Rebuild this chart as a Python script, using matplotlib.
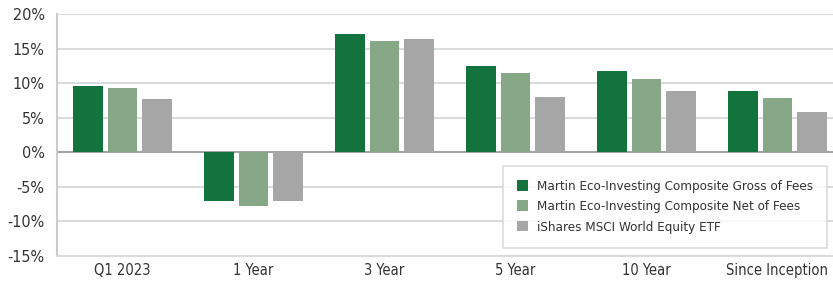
import numpy as np
import matplotlib.pyplot as plt
from matplotlib import font_manager

# Data
categories = ['Q1 2023', '1 Year', '3 Year', '5 Year', '10 Year', 'Since Inception']
gross = [9.6, -7.0, 17.1, 12.5, 11.8, 8.9]
net = [9.3, -7.8, 16.1, 11.4, 10.6, 7.9]
ishares = [7.7, -7.1, 16.4, 8.0, 8.9, 5.8]
series_labels = ['Martin Eco-Investing Composite Gross of Fees',
                 'Martin Eco-Investing Composite Net of Fees',
                 'iShares MSCI World Equity ETF']
colors = ['#13733C', '#86A886', '#A6A6A6']

# narrow face, closest thing to the condensed font of the original
files = sorted({f.fname for f in font_manager.fontManager.ttflist})
narrow = [f for f in files if ('Narrow' in f or 'Condensed' in f)
          and 'Bold' not in f and 'Italic' not in f and 'Oblique' not in f]
fp = font_manager.FontProperties(fname=narrow[0]) if narrow else font_manager.FontProperties(family='DejaVu Sans')

fig = plt.figure(figsize=(8.33, 2.81), dpi=100)
ax = fig.add_axes([57 / 833, 25 / 281, 786 / 833, 242 / 281])

x = np.arange(len(categories))
w = 0.229
step = 0.267
for i, (vals, lab) in enumerate(zip([gross, net, ishares], series_labels)):
    ax.bar(x + (i - 1) * step, vals, width=w, color=colors[i], label=lab, zorder=3)

ax.set_xlim(-0.5, len(categories) - 0.5)
ax.set_ylim(-15, 20)
ax.set_yticks(np.arange(-15, 21, 5))
ax.set_yticklabels([f'{v}%' for v in range(-15, 21, 5)])
ax.set_xticks(x)
ax.set_xticklabels(categories)
ax.tick_params(length=0, colors='#333333')
ax.tick_params(axis='y', pad=9)
ax.tick_params(axis='x', pad=5)
for t in ax.get_yticklabels():
    t.set_fontproperties(fp)
    t.set_fontsize(11.5)
for t in ax.get_xticklabels():
    t.set_fontproperties(fp)
    t.set_fontsize(10.5)

ax.grid(axis='y', color='#D9DCDC', linewidth=1.5, zorder=0)
ax.axhline(0, color='#A0A4A4', linewidth=1.5, zorder=2)
for s in ['top', 'right']:
    ax.spines[s].set_visible(False)
ax.spines['left'].set_color('#C8CCCC')
ax.spines['left'].set_linewidth(1.5)
ax.spines['bottom'].set_color('#D9DCDC')
ax.spines['bottom'].set_linewidth(1.5)

lp = fp.copy()
lp.set_size(9.6)
leg = ax.legend(loc='upper left', bbox_to_anchor=((503 - 57) / 786, (256 - 166) / 242),
                prop=lp, frameon=True, fancybox=False, edgecolor='#D0D4D4',
                handlelength=0.85, handleheight=0.85, handletextpad=0.65,
                labelspacing=0.55, borderpad=1.05, borderaxespad=0)
leg.get_frame().set_linewidth(1.2)
for t in leg.get_texts():
    t.set_color('#333333')

fig.savefig('out.png', dpi=100)
